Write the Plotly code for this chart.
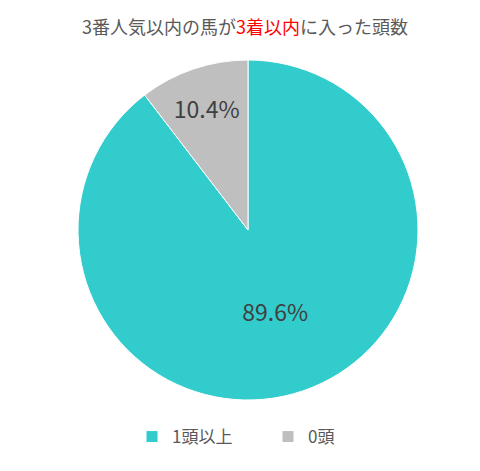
import plotly.graph_objects as go

categories = ["1頭以上", "0頭"]
values = [89.6, 10.4]
colors = ["#33CCCC", "#BFBFBF"]
text_labels = ["89.6%", "10.4%"]

W, H = 480, 471
OFF = 8  # page body margin offset
cx, cy, r = 248 - OFF, 230 - OFF, 170

fig = go.Figure(go.Pie(
    labels=categories,
    values=values,
    text=text_labels,
    textinfo="text",
    textposition="inside",
    insidetextorientation="horizontal",
    textfont=dict(size=23, color="#404040", family="Noto Sans CJK JP"),
    marker=dict(colors=colors, line=dict(color="white", width=1)),
    sort=False,
    direction="clockwise",
    rotation=0,
    domain=dict(x=[(cx - r) / W, (cx + r) / W], y=[(H - cy - r) / H, (H - cy + r) / H]),
    hoverinfo="label+percent",
))

fig.update_layout(
    width=W, height=H,
    margin=dict(l=0, r=0, t=0, b=0),
    paper_bgcolor="white",
    plot_bgcolor="white",
    font=dict(family="Noto Sans CJK JP", color="#595959"),
    title=dict(
        text="3番人気以内の馬が<span style='color:#FF0000'>3着以内</span>に入った頭数",
        x=(245 - OFF) / W, xanchor="center", y=1 - (28 - OFF) / H, yanchor="middle",
        font=dict(size=18, color="#595959", family="Noto Sans CJK JP"),
    ),
    legend=dict(
        orientation="h", x=(132 - OFF) / W, xanchor="left", y=1 - (437 - OFF) / H, yanchor="middle",
        font=dict(size=17, color="#595959", family="Noto Sans CJK JP"),
        itemwidth=30, entrywidth=91, entrywidthmode="pixels",
    ),
)

fig.write_html("out.html")
